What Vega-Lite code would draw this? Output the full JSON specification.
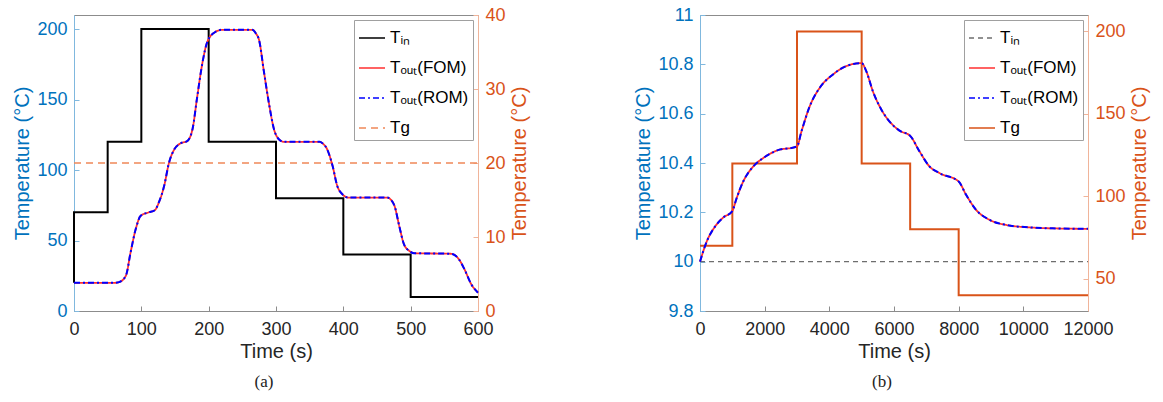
{
  "$schema": "https://vega.github.io/schema/vega-lite/v6.json",
  "padding": {"left": 12, "top": 5, "right": 4, "bottom": 4},
  "background": "white",
  "config": {
    "font": "Liberation Sans",
    "view": {"stroke": "#8C8C8C", "strokeWidth": 1},
    "axis": {
      "grid": false,
      "labelFont": "Liberation Sans",
      "labelFontSize": 18,
      "titleFont": "Liberation Sans",
      "titleFontSize": 20,
      "titleFontWeight": "normal",
      "tickSize": -5,
      "labelPadding": 12,
      "titlePadding": 4,
      "domainWidth": 1,
      "tickWidth": 1,
      "labelOverlap": false,
      "labelFlush": false
    },
    "axisX": {"labelColor": "#262626", "titleColor": "#262626", "domainColor": "#8C8C8C", "tickColor": "#8C8C8C", "titlePadding": 3, "labelPadding": 14},
    "legend": {
      "orient": "top-right",
      "offset": 5,
      "title": null,
      "labelFont": "Liberation Sans",
      "labelFontSize": 17,
      "labelColor": "#000000",
      "symbolType": "stroke",
      "symbolSize": 676,
      "symbolStrokeWidth": 1.6,
      "strokeColor": "#A0A0A0",
      "fillColor": "white",
      "padding": 4,
      "rowPadding": 8,
      "labelOffset": 4,
      "labelLimit": 200
    },
    "title": {"font": "Liberation Serif", "fontSize": 17, "fontWeight": "normal", "color": "#222222"}
  },
  "datasets": {
    "a_tin": [
      {"t": 0, "v": 20, "s": "Tᵢₙ"}, {"t": 0, "v": 70, "s": "Tᵢₙ"}, {"t": 50, "v": 120, "s": "Tᵢₙ"},
      {"t": 100, "v": 200, "s": "Tᵢₙ"}, {"t": 200, "v": 120, "s": "Tᵢₙ"}, {"t": 300, "v": 80, "s": "Tᵢₙ"},
      {"t": 400, "v": 40, "s": "Tᵢₙ"}, {"t": 500, "v": 10, "s": "Tᵢₙ"}, {"t": 600, "v": 10, "s": "Tᵢₙ"}
    ],
    "a_tg": [
      {"t": 0, "v": 20, "s": "Tg"}, {"t": 600, "v": 20, "s": "Tg"}
    ],
    "a_fom": [
      {"t": 0, "v": 20, "s": "Tₒᵤₜ(FOM)"}, {"t": 60, "v": 20, "s": "Tₒᵤₜ(FOM)"}, {"t": 67, "v": 20.5, "s": "Tₒᵤₜ(FOM)"},
      {"t": 77, "v": 25, "s": "Tₒᵤₜ(FOM)"}, {"t": 84, "v": 41.5, "s": "Tₒᵤₜ(FOM)"}, {"t": 91.6, "v": 58, "s": "Tₒᵤₜ(FOM)"},
      {"t": 99, "v": 67.5, "s": "Tₒᵤₜ(FOM)"}, {"t": 111, "v": 70, "s": "Tₒᵤₜ(FOM)"}, {"t": 120, "v": 71.5, "s": "Tₒᵤₜ(FOM)"},
      {"t": 126, "v": 77, "s": "Tₒᵤₜ(FOM)"}, {"t": 134, "v": 89, "s": "Tₒᵤₜ(FOM)"}, {"t": 141, "v": 105, "s": "Tₒᵤₜ(FOM)"},
      {"t": 149, "v": 114.7, "s": "Tₒᵤₜ(FOM)"}, {"t": 158.5, "v": 119, "s": "Tₒᵤₜ(FOM)"}, {"t": 168, "v": 120.5, "s": "Tₒᵤₜ(FOM)"},
      {"t": 176, "v": 129, "s": "Tₒᵤₜ(FOM)"}, {"t": 183, "v": 152, "s": "Tₒᵤₜ(FOM)"}, {"t": 190.7, "v": 176, "s": "Tₒᵤₜ(FOM)"},
      {"t": 198, "v": 191, "s": "Tₒᵤₜ(FOM)"}, {"t": 210, "v": 198, "s": "Tₒᵤₜ(FOM)"}, {"t": 220, "v": 199.5, "s": "Tₒᵤₜ(FOM)"},
      {"t": 265, "v": 199.5, "s": "Tₒᵤₜ(FOM)"}, {"t": 270, "v": 197, "s": "Tₒᵤₜ(FOM)"}, {"t": 275, "v": 192, "s": "Tₒᵤₜ(FOM)"},
      {"t": 282, "v": 170, "s": "Tₒᵤₜ(FOM)"}, {"t": 290, "v": 146, "s": "Tₒᵤₜ(FOM)"}, {"t": 297, "v": 129, "s": "Tₒᵤₜ(FOM)"},
      {"t": 304.6, "v": 121.7, "s": "Tₒᵤₜ(FOM)"}, {"t": 312, "v": 120, "s": "Tₒᵤₜ(FOM)"}, {"t": 365, "v": 120, "s": "Tₒᵤₜ(FOM)"},
      {"t": 369, "v": 119, "s": "Tₒᵤₜ(FOM)"}, {"t": 376, "v": 114.7, "s": "Tₒᵤₜ(FOM)"}, {"t": 384, "v": 103, "s": "Tₒᵤₜ(FOM)"},
      {"t": 391, "v": 88.7, "s": "Tₒᵤₜ(FOM)"}, {"t": 398.7, "v": 82.8, "s": "Tₒᵤₜ(FOM)"}, {"t": 407, "v": 80.5, "s": "Tₒᵤₜ(FOM)"},
      {"t": 465, "v": 80.5, "s": "Tₒᵤₜ(FOM)"}, {"t": 470.5, "v": 79, "s": "Tₒᵤₜ(FOM)"}, {"t": 476, "v": 74.6, "s": "Tₒᵤₜ(FOM)"},
      {"t": 483, "v": 60.4, "s": "Tₒᵤₜ(FOM)"}, {"t": 490, "v": 47.4, "s": "Tₒᵤₜ(FOM)"}, {"t": 497.8, "v": 42.7, "s": "Tₒᵤₜ(FOM)"},
      {"t": 505, "v": 41, "s": "Tₒᵤₜ(FOM)"}, {"t": 560, "v": 40.6, "s": "Tₒᵤₜ(FOM)"}, {"t": 566, "v": 39.5, "s": "Tₒᵤₜ(FOM)"},
      {"t": 572, "v": 36.5, "s": "Tₒᵤₜ(FOM)"}, {"t": 580, "v": 29.5, "s": "Tₒᵤₜ(FOM)"}, {"t": 590, "v": 19, "s": "Tₒᵤₜ(FOM)"},
      {"t": 600, "v": 13, "s": "Tₒᵤₜ(FOM)"}
    ],
    "a_rom": [
      {"t": 0, "v": 20, "s": "Tₒᵤₜ(ROM)"}, {"t": 60, "v": 20, "s": "Tₒᵤₜ(ROM)"}, {"t": 67, "v": 20.5, "s": "Tₒᵤₜ(ROM)"},
      {"t": 77, "v": 25, "s": "Tₒᵤₜ(ROM)"}, {"t": 84, "v": 41.5, "s": "Tₒᵤₜ(ROM)"}, {"t": 91.6, "v": 58, "s": "Tₒᵤₜ(ROM)"},
      {"t": 99, "v": 67.5, "s": "Tₒᵤₜ(ROM)"}, {"t": 111, "v": 70, "s": "Tₒᵤₜ(ROM)"}, {"t": 120, "v": 71.5, "s": "Tₒᵤₜ(ROM)"},
      {"t": 126, "v": 77, "s": "Tₒᵤₜ(ROM)"}, {"t": 134, "v": 89, "s": "Tₒᵤₜ(ROM)"}, {"t": 141, "v": 105, "s": "Tₒᵤₜ(ROM)"},
      {"t": 149, "v": 114.7, "s": "Tₒᵤₜ(ROM)"}, {"t": 158.5, "v": 119, "s": "Tₒᵤₜ(ROM)"}, {"t": 168, "v": 120.5, "s": "Tₒᵤₜ(ROM)"},
      {"t": 176, "v": 129, "s": "Tₒᵤₜ(ROM)"}, {"t": 183, "v": 152, "s": "Tₒᵤₜ(ROM)"}, {"t": 190.7, "v": 176, "s": "Tₒᵤₜ(ROM)"},
      {"t": 198, "v": 191, "s": "Tₒᵤₜ(ROM)"}, {"t": 210, "v": 198, "s": "Tₒᵤₜ(ROM)"}, {"t": 220, "v": 199.5, "s": "Tₒᵤₜ(ROM)"},
      {"t": 265, "v": 199.5, "s": "Tₒᵤₜ(ROM)"}, {"t": 270, "v": 197, "s": "Tₒᵤₜ(ROM)"}, {"t": 275, "v": 192, "s": "Tₒᵤₜ(ROM)"},
      {"t": 282, "v": 170, "s": "Tₒᵤₜ(ROM)"}, {"t": 290, "v": 146, "s": "Tₒᵤₜ(ROM)"}, {"t": 297, "v": 129, "s": "Tₒᵤₜ(ROM)"},
      {"t": 304.6, "v": 121.7, "s": "Tₒᵤₜ(ROM)"}, {"t": 312, "v": 120, "s": "Tₒᵤₜ(ROM)"}, {"t": 365, "v": 120, "s": "Tₒᵤₜ(ROM)"},
      {"t": 369, "v": 119, "s": "Tₒᵤₜ(ROM)"}, {"t": 376, "v": 114.7, "s": "Tₒᵤₜ(ROM)"}, {"t": 384, "v": 103, "s": "Tₒᵤₜ(ROM)"},
      {"t": 391, "v": 88.7, "s": "Tₒᵤₜ(ROM)"}, {"t": 398.7, "v": 82.8, "s": "Tₒᵤₜ(ROM)"}, {"t": 407, "v": 80.5, "s": "Tₒᵤₜ(ROM)"},
      {"t": 465, "v": 80.5, "s": "Tₒᵤₜ(ROM)"}, {"t": 470.5, "v": 79, "s": "Tₒᵤₜ(ROM)"}, {"t": 476, "v": 74.6, "s": "Tₒᵤₜ(ROM)"},
      {"t": 483, "v": 60.4, "s": "Tₒᵤₜ(ROM)"}, {"t": 490, "v": 47.4, "s": "Tₒᵤₜ(ROM)"}, {"t": 497.8, "v": 42.7, "s": "Tₒᵤₜ(ROM)"},
      {"t": 505, "v": 41, "s": "Tₒᵤₜ(ROM)"}, {"t": 560, "v": 40.6, "s": "Tₒᵤₜ(ROM)"}, {"t": 566, "v": 39.5, "s": "Tₒᵤₜ(ROM)"},
      {"t": 572, "v": 36.5, "s": "Tₒᵤₜ(ROM)"}, {"t": 580, "v": 29.5, "s": "Tₒᵤₜ(ROM)"}, {"t": 590, "v": 19, "s": "Tₒᵤₜ(ROM)"},
      {"t": 600, "v": 13, "s": "Tₒᵤₜ(ROM)"}
    ],
    "b_tin": [
      {"t": 0, "v": 10, "s": "Tᵢₙ"}, {"t": 12000, "v": 10, "s": "Tᵢₙ"}
    ],
    "b_tg": [
      {"t": 0, "v": 70, "s": "Tg"}, {"t": 1000, "v": 120, "s": "Tg"}, {"t": 3000, "v": 200, "s": "Tg"},
      {"t": 5000, "v": 120, "s": "Tg"}, {"t": 6500, "v": 80, "s": "Tg"}, {"t": 8000, "v": 40, "s": "Tg"},
      {"t": 12000, "v": 40, "s": "Tg"}
    ],
    "b_fom": [
      {"t": 0, "v": 10, "s": "Tₒᵤₜ(FOM)"}, {"t": 206, "v": 10.081, "s": "Tₒᵤₜ(FOM)"}, {"t": 463, "v": 10.142, "s": "Tₒᵤₜ(FOM)"},
      {"t": 720, "v": 10.179, "s": "Tₒᵤₜ(FOM)"}, {"t": 1000, "v": 10.205, "s": "Tₒᵤₜ(FOM)"}, {"t": 1132, "v": 10.257, "s": "Tₒᵤₜ(FOM)"},
      {"t": 1337, "v": 10.325, "s": "Tₒᵤₜ(FOM)"}, {"t": 1646, "v": 10.386, "s": "Tₒᵤₜ(FOM)"}, {"t": 1954, "v": 10.42, "s": "Tₒᵤₜ(FOM)"},
      {"t": 2366, "v": 10.45, "s": "Tₒᵤₜ(FOM)"}, {"t": 3000, "v": 10.467, "s": "Tₒᵤₜ(FOM)"}, {"t": 3138, "v": 10.528, "s": "Tₒᵤₜ(FOM)"},
      {"t": 3394, "v": 10.63, "s": "Tₒᵤₜ(FOM)"}, {"t": 3703, "v": 10.705, "s": "Tₒᵤₜ(FOM)"}, {"t": 4114, "v": 10.759, "s": "Tₒᵤₜ(FOM)"},
      {"t": 4526, "v": 10.793, "s": "Tₒᵤₜ(FOM)"}, {"t": 5000, "v": 10.805, "s": "Tₒᵤₜ(FOM)"}, {"t": 5143, "v": 10.772, "s": "Tₒᵤₜ(FOM)"},
      {"t": 5349, "v": 10.69, "s": "Tₒᵤₜ(FOM)"}, {"t": 5607, "v": 10.617, "s": "Tₒᵤₜ(FOM)"}, {"t": 5863, "v": 10.568, "s": "Tₒᵤₜ(FOM)"},
      {"t": 6172, "v": 10.531, "s": "Tₒᵤₜ(FOM)"}, {"t": 6500, "v": 10.51, "s": "Tₒᵤₜ(FOM)"}, {"t": 6789, "v": 10.447, "s": "Tₒᵤₜ(FOM)"},
      {"t": 7098, "v": 10.386, "s": "Tₒᵤₜ(FOM)"}, {"t": 7406, "v": 10.359, "s": "Tₒᵤₜ(FOM)"}, {"t": 8000, "v": 10.325, "s": "Tₒᵤₜ(FOM)"},
      {"t": 8230, "v": 10.271, "s": "Tₒᵤₜ(FOM)"}, {"t": 8539, "v": 10.21, "s": "Tₒᵤₜ(FOM)"}, {"t": 8949, "v": 10.17, "s": "Tₒᵤₜ(FOM)"},
      {"t": 9465, "v": 10.149, "s": "Tₒᵤₜ(FOM)"}, {"t": 10184, "v": 10.139, "s": "Tₒᵤₜ(FOM)"}, {"t": 10903, "v": 10.135, "s": "Tₒᵤₜ(FOM)"},
      {"t": 12000, "v": 10.133, "s": "Tₒᵤₜ(FOM)"}
    ],
    "b_rom": [
      {"t": 0, "v": 10, "s": "Tₒᵤₜ(ROM)"}, {"t": 206, "v": 10.081, "s": "Tₒᵤₜ(ROM)"}, {"t": 463, "v": 10.142, "s": "Tₒᵤₜ(ROM)"},
      {"t": 720, "v": 10.179, "s": "Tₒᵤₜ(ROM)"}, {"t": 1000, "v": 10.205, "s": "Tₒᵤₜ(ROM)"}, {"t": 1132, "v": 10.257, "s": "Tₒᵤₜ(ROM)"},
      {"t": 1337, "v": 10.325, "s": "Tₒᵤₜ(ROM)"}, {"t": 1646, "v": 10.386, "s": "Tₒᵤₜ(ROM)"}, {"t": 1954, "v": 10.42, "s": "Tₒᵤₜ(ROM)"},
      {"t": 2366, "v": 10.45, "s": "Tₒᵤₜ(ROM)"}, {"t": 3000, "v": 10.467, "s": "Tₒᵤₜ(ROM)"}, {"t": 3138, "v": 10.528, "s": "Tₒᵤₜ(ROM)"},
      {"t": 3394, "v": 10.63, "s": "Tₒᵤₜ(ROM)"}, {"t": 3703, "v": 10.705, "s": "Tₒᵤₜ(ROM)"}, {"t": 4114, "v": 10.759, "s": "Tₒᵤₜ(ROM)"},
      {"t": 4526, "v": 10.793, "s": "Tₒᵤₜ(ROM)"}, {"t": 5000, "v": 10.805, "s": "Tₒᵤₜ(ROM)"}, {"t": 5143, "v": 10.772, "s": "Tₒᵤₜ(ROM)"},
      {"t": 5349, "v": 10.69, "s": "Tₒᵤₜ(ROM)"}, {"t": 5607, "v": 10.617, "s": "Tₒᵤₜ(ROM)"}, {"t": 5863, "v": 10.568, "s": "Tₒᵤₜ(ROM)"},
      {"t": 6172, "v": 10.531, "s": "Tₒᵤₜ(ROM)"}, {"t": 6500, "v": 10.51, "s": "Tₒᵤₜ(ROM)"}, {"t": 6789, "v": 10.447, "s": "Tₒᵤₜ(ROM)"},
      {"t": 7098, "v": 10.386, "s": "Tₒᵤₜ(ROM)"}, {"t": 7406, "v": 10.359, "s": "Tₒᵤₜ(ROM)"}, {"t": 8000, "v": 10.325, "s": "Tₒᵤₜ(ROM)"},
      {"t": 8230, "v": 10.271, "s": "Tₒᵤₜ(ROM)"}, {"t": 8539, "v": 10.21, "s": "Tₒᵤₜ(ROM)"}, {"t": 8949, "v": 10.17, "s": "Tₒᵤₜ(ROM)"},
      {"t": 9465, "v": 10.149, "s": "Tₒᵤₜ(ROM)"}, {"t": 10184, "v": 10.139, "s": "Tₒᵤₜ(ROM)"}, {"t": 10903, "v": 10.135, "s": "Tₒᵤₜ(ROM)"},
      {"t": 12000, "v": 10.133, "s": "Tₒᵤₜ(ROM)"}
    ]
  },
  "spacing": 103,
  "hconcat": [
    {
      "width": 404,
      "height": 296,
      "title": {"text": "(a)", "orient": "bottom", "offset": 13, "dx": -12},
      "encoding": {
        "x": {"field": "t", "type": "quantitative", "scale": {"domain": [0, 600], "nice": false},
              "axis": {"values": [0, 100, 200, 300, 400, 500, 600], "title": "Time (s)", "format": "d"}},
        "color": {"field": "s", "type": "nominal",
          "scale": {"domain": ["Tᵢₙ", "Tₒᵤₜ(FOM)", "Tₒᵤₜ(ROM)", "Tg"], "range": ["#000000", "#FF3030", "#0000FF", "#F08858"]}},
        "strokeDash": {"field": "s", "type": "nominal",
          "scale": {"domain": ["Tᵢₙ", "Tₒᵤₜ(FOM)", "Tₒᵤₜ(ROM)", "Tg"], "range": [[1, 0], [1, 0], [6, 3, 2, 3], [7, 5]]}}
      },
      "layer": [
        {
          "data": {"name": "a_tin"},
          "mark": {"type": "line", "interpolate": "step-after", "strokeWidth": 2},
          "encoding": {
            "y": {"field": "v", "type": "quantitative", "scale": {"domain": [0, 210], "nice": false},
                  "axis": {"orient": "left", "values": [0, 50, 100, 150, 200], "title": "Temperature (°C)", "format": "d",
                           "labelColor": "#0072BD", "titleColor": "#0072BD", "domainColor": "#80B8DE", "tickColor": "#80B8DE"}}
          }
        },
        {
          "data": {"name": "a_tg"},
          "mark": {"type": "line", "strokeWidth": 1.4},
          "encoding": {
            "y": {"field": "v", "type": "quantitative", "scale": {"domain": [0, 40], "nice": false},
                  "axis": {"orient": "right", "values": [0, 10, 20, 30, 40], "title": "Temperature (°C)", "format": "d",
                           "titleAngle": 270, "titleBaseline": "top",
                           "labelColor": "#D95319", "titleColor": "#D95319", "domainColor": "#F0B49A", "tickColor": "#F0B49A"}}
          }
        },
        {
          "data": {"name": "a_fom"},
          "mark": {"type": "line", "interpolate": "monotone", "strokeWidth": 1.8},
          "encoding": {
            "y": {"field": "v", "type": "quantitative", "scale": {"domain": [0, 210], "nice": false}, "axis": null}
          }
        },
        {
          "data": {"name": "a_rom"},
          "mark": {"type": "line", "interpolate": "monotone", "strokeWidth": 2},
          "encoding": {
            "y": {"field": "v", "type": "quantitative", "scale": {"domain": [0, 210], "nice": false}, "axis": null}
          }
        }
      ],
      "resolve": {"scale": {"y": "independent"}}
    },
    {
      "width": 388,
      "height": 296,
      "title": {"text": "(b)", "orient": "bottom", "offset": 13, "dx": -12},
      "encoding": {
        "x": {"field": "t", "type": "quantitative", "scale": {"domain": [0, 12000], "nice": false},
              "axis": {"values": [0, 2000, 4000, 6000, 8000, 10000, 12000], "title": "Time (s)", "format": "d"}},
        "color": {"field": "s", "type": "nominal",
          "scale": {"domain": ["Tᵢₙ", "Tₒᵤₜ(FOM)", "Tₒᵤₜ(ROM)", "Tg"], "range": ["#6E6E6E", "#FF3030", "#0000FF", "#D95319"]}},
        "strokeDash": {"field": "s", "type": "nominal",
          "scale": {"domain": ["Tᵢₙ", "Tₒᵤₜ(FOM)", "Tₒᵤₜ(ROM)", "Tg"], "range": [[5, 4], [1, 0], [6, 3, 2, 3], [1, 0]]}}
      },
      "layer": [
        {
          "data": {"name": "b_tin"},
          "mark": {"type": "line", "strokeWidth": 1.4},
          "encoding": {
            "y": {"field": "v", "type": "quantitative", "scale": {"domain": [9.8, 11], "nice": false},
                  "axis": {"orient": "left", "values": [9.8, 10, 10.2, 10.4, 10.6, 10.8, 11], "title": "Temperature (°C)", "format": "~r",
                           "labelColor": "#0072BD", "titleColor": "#0072BD", "domainColor": "#80B8DE", "tickColor": "#80B8DE"}}
          }
        },
        {
          "data": {"name": "b_tg"},
          "mark": {"type": "line", "interpolate": "step-after", "strokeWidth": 2},
          "encoding": {
            "y": {"field": "v", "type": "quantitative", "scale": {"domain": [30.5, 210], "nice": false},
                  "axis": {"orient": "right", "values": [50, 100, 150, 200], "title": "Temperature (°C)", "format": "d",
                           "titleAngle": 270, "titleBaseline": "top",
                           "labelColor": "#D95319", "titleColor": "#D95319", "domainColor": "#F0B49A", "tickColor": "#F0B49A"}}
          }
        },
        {
          "data": {"name": "b_fom"},
          "mark": {"type": "line", "interpolate": "monotone", "strokeWidth": 1.8},
          "encoding": {
            "y": {"field": "v", "type": "quantitative", "scale": {"domain": [9.8, 11], "nice": false}, "axis": null}
          }
        },
        {
          "data": {"name": "b_rom"},
          "mark": {"type": "line", "interpolate": "monotone", "strokeWidth": 2},
          "encoding": {
            "y": {"field": "v", "type": "quantitative", "scale": {"domain": [9.8, 11], "nice": false}, "axis": null}
          }
        }
      ],
      "resolve": {"scale": {"y": "independent"}}
    }
  ],
  "resolve": {"scale": {"color": "independent", "strokeDash": "independent"}, "legend": {"color": "independent", "strokeDash": "independent"}}
}
